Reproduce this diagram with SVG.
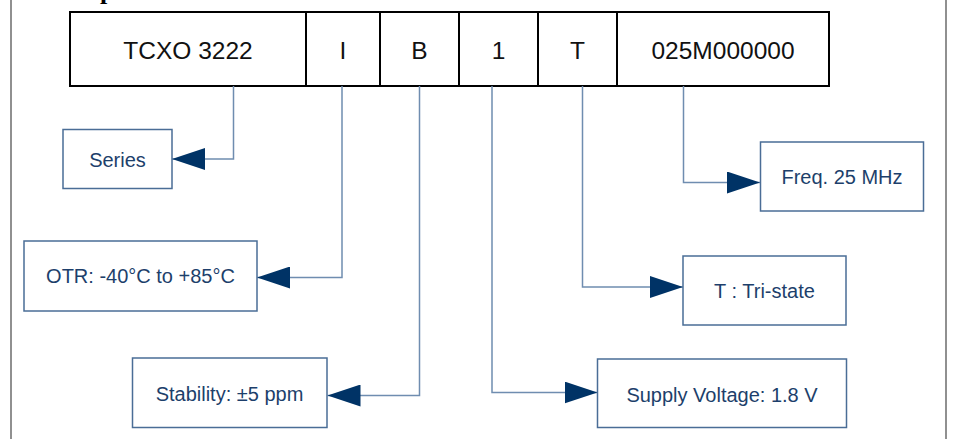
<svg xmlns="http://www.w3.org/2000/svg" width="953" height="439" viewBox="0 0 953 439">
<style>
.frame{stroke:#6b6b6b;stroke-width:1.5;fill:none}
.seg{fill:#fff;stroke:#000;stroke-width:2}
.segt{font-family:"Liberation Sans",Arial,sans-serif;font-size:24.5px;fill:#111;text-anchor:middle}
.lbl{fill:#fff;stroke:#4a6d96;stroke-width:1.5}
.lblt{font-family:"Liberation Sans",Arial,sans-serif;font-size:20px;fill:#1d3f6b;text-anchor:middle}
.con{fill:none;stroke:#6f8db0;stroke-width:1.5}
.title{font-family:"Liberation Serif","Times New Roman",serif;font-weight:bold;font-size:26px;fill:#000}
</style>
<defs>
<marker id="ah" markerUnits="userSpaceOnUse" markerWidth="34" markerHeight="22" refX="33" refY="11" orient="auto">
<path d="M0,0 L33,11 L0,22 Z" fill="#003366"/>
</marker>
</defs>
<rect width="953" height="439" fill="#fff"/>
<line class="frame" x1="11" y1="0" x2="11" y2="439"/>
<line class="frame" x1="946" y1="0" x2="946" y2="439"/>
<text class="title" x="35" y="-1.5">Example:</text>

<g id="code">
<g id="seg-series"><rect class="seg" x="70" y="12" width="236" height="74"/><text class="segt" x="188" y="58.5">TCXO 3222</text></g>
<g id="seg-otr"><rect class="seg" x="306" y="12" width="74" height="74"/><text class="segt" x="343" y="58.5">I</text></g>
<g id="seg-stab"><rect class="seg" x="380" y="12" width="79" height="74"/><text class="segt" x="419.5" y="58.5">B</text></g>
<g id="seg-volt"><rect class="seg" x="459" y="12" width="79" height="74"/><text class="segt" x="498.5" y="58.5">1</text></g>
<g id="seg-tri"><rect class="seg" x="538" y="12" width="79" height="74"/><text class="segt" x="577.5" y="58.5">T</text></g>
<g id="seg-freq"><rect class="seg" x="617" y="12" width="212" height="74"/><text class="segt" x="723" y="58.5">025M000000</text></g>
</g>

<g id="connectors">
<polyline class="con" points="233.5,86 233.5,159 172,159" marker-end="url(#ah)"/>
<polyline class="con" points="342,86 342,277.5 257,277.5" marker-end="url(#ah)"/>
<polyline class="con" points="419.5,86 419.5,395.5 327.5,395.5" marker-end="url(#ah)"/>
<polyline class="con" points="492,86 492,392.5 597.5,392.5" marker-end="url(#ah)"/>
<polyline class="con" points="582.5,86 582.5,287 683,287" marker-end="url(#ah)"/>
<polyline class="con" points="683.5,86 683.5,182.5 760,182.5" marker-end="url(#ah)"/>
</g>

<g id="series"><rect class="lbl" x="63" y="129.5" width="109" height="59"/><text class="lblt" x="117.5" y="166.5">Series</text></g>
<g id="otr"><rect class="lbl" x="24" y="241" width="233" height="70"/><text class="lblt" x="140.5" y="283">OTR: -40°C to +85°C</text></g>
<g id="stability"><rect class="lbl" x="132.5" y="358" width="194.5" height="69.5"/><text class="lblt" x="229.5" y="400.5">Stability: ±5 ppm</text></g>
<g id="voltage"><rect class="lbl" x="597.5" y="359" width="249" height="68.5"/><text class="lblt" x="722" y="401.5">Supply Voltage: 1.8 V</text></g>
<g id="tristate"><rect class="lbl" x="683" y="256" width="163" height="69"/><text class="lblt" x="764.5" y="297.5">T : Tri-state</text></g>
<g id="freq"><rect class="lbl" x="760.5" y="142" width="163" height="69"/><text class="lblt" x="842" y="184">Freq. 25 MHz</text></g>
</svg>
